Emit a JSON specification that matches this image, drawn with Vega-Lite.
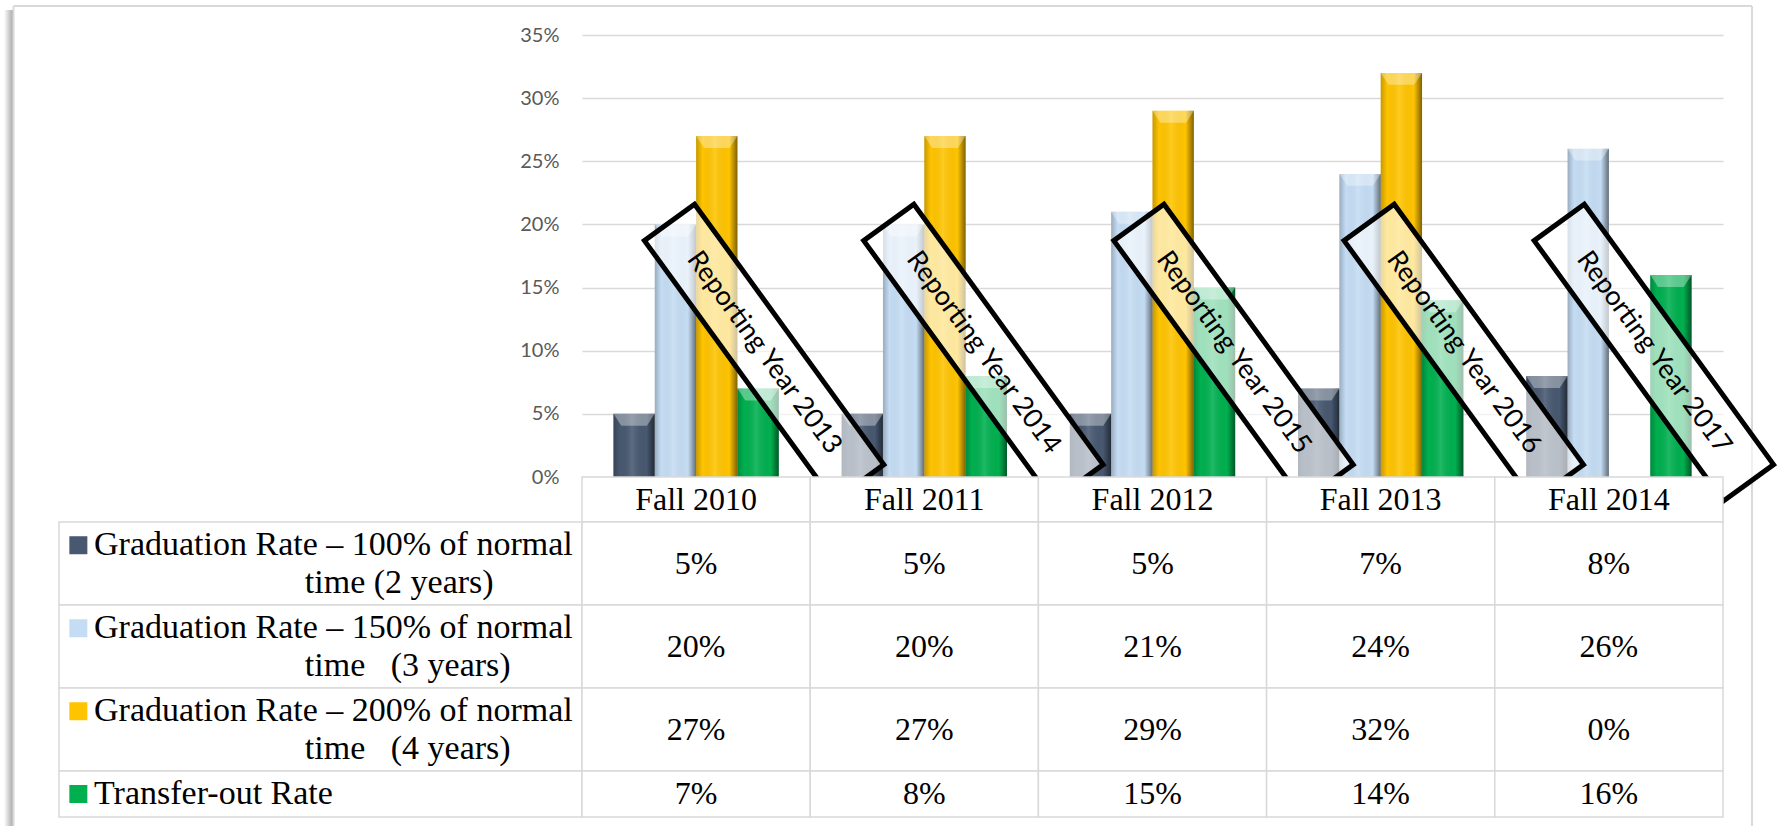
{
  "$schema": "https://vega.github.io/schema/vega-lite/v6.json",
  "background": "white",
  "padding": {"left": 3, "top": 5, "right": 0, "bottom": 0},
  "columns": 2,
  "spacing": 0,
  "bounds": "flush",
  "align": "each",
  "config": {"view": {"stroke": null}},
  "datasets": {
    "rates": [
      {"period": "Fall 2010", "series": "Graduation Rate – 100% of normal time (2 years)", "value": 0.05},
      {"period": "Fall 2011", "series": "Graduation Rate – 100% of normal time (2 years)", "value": 0.05},
      {"period": "Fall 2012", "series": "Graduation Rate – 100% of normal time (2 years)", "value": 0.05},
      {"period": "Fall 2013", "series": "Graduation Rate – 100% of normal time (2 years)", "value": 0.07},
      {"period": "Fall 2014", "series": "Graduation Rate – 100% of normal time (2 years)", "value": 0.08},
      {"period": "Fall 2010", "series": "Graduation Rate – 150% of normal time (3 years)", "value": 0.20},
      {"period": "Fall 2011", "series": "Graduation Rate – 150% of normal time (3 years)", "value": 0.20},
      {"period": "Fall 2012", "series": "Graduation Rate – 150% of normal time (3 years)", "value": 0.21},
      {"period": "Fall 2013", "series": "Graduation Rate – 150% of normal time (3 years)", "value": 0.24},
      {"period": "Fall 2014", "series": "Graduation Rate – 150% of normal time (3 years)", "value": 0.26},
      {"period": "Fall 2010", "series": "Graduation Rate – 200% of normal time (4 years)", "value": 0.27},
      {"period": "Fall 2011", "series": "Graduation Rate – 200% of normal time (4 years)", "value": 0.27},
      {"period": "Fall 2012", "series": "Graduation Rate – 200% of normal time (4 years)", "value": 0.29},
      {"period": "Fall 2013", "series": "Graduation Rate – 200% of normal time (4 years)", "value": 0.32},
      {"period": "Fall 2014", "series": "Graduation Rate – 200% of normal time (4 years)", "value": 0.00},
      {"period": "Fall 2010", "series": "Transfer-out Rate", "value": 0.07},
      {"period": "Fall 2011", "series": "Transfer-out Rate", "value": 0.08},
      {"period": "Fall 2012", "series": "Transfer-out Rate", "value": 0.15},
      {"period": "Fall 2013", "series": "Transfer-out Rate", "value": 0.14},
      {"period": "Fall 2014", "series": "Transfer-out Rate", "value": 0.16}
    ],
    "notes": [
      {"label": "Reporting Year 2013", "pos": 0.798, "at": 0.0985},
      {"label": "Reporting Year 2014", "pos": 1.759, "at": 0.0985},
      {"label": "Reporting Year 2015", "pos": 2.855, "at": 0.0985},
      {"label": "Reporting Year 2016", "pos": 3.864, "at": 0.0985},
      {"label": "Reporting Year 2017", "pos": 4.697, "at": 0.0985}
    ],
    "rows": [
      {"series": "Graduation Rate – 100% of normal time (2 years)", "line1": "Graduation Rate – 100% of normal", "line2": "time (2 years)"},
      {"series": "Graduation Rate – 150% of normal time (3 years)", "line1": "Graduation Rate – 150% of normal", "line2": "time\u00a0\u00a0 (3 years)"},
      {"series": "Graduation Rate – 200% of normal time (4 years)", "line1": "Graduation Rate – 200% of normal", "line2": "time\u00a0\u00a0 (4 years)"},
      {"series": "Transfer-out Rate", "line1": "Transfer-out Rate", "line2": ""}
    ]
  },
  "concat": [
    {
      "width": 523,
      "height": 442,
      "data": {"values": [{"frame": "border"}]},
      "layer": [
        {
          "mark": {"type": "rect", "fill": {"gradient": "linear", "x1": 0, "x2": 1, "y1": 0, "y2": 0, "stops": [
            {"offset": 0, "color": "#FFFFFF"},
            {"offset": 1, "color": "#A8A8A8"}
          ]}},
          "encoding": {
            "x": {"datum": -0.1052, "type": "quantitative", "scale": {"domain": [0, 1], "nice": false, "zero": false}, "axis": null},
            "x2": {"datum": -0.0880},
            "y": {"datum": 1.0566, "type": "quantitative", "scale": {"domain": [0, 1], "nice": false, "zero": false}, "axis": null},
            "y2": {"datum": -0.7896}
          }
        },
        {
          "mark": {"type": "rule", "color": "#D9D9D9", "strokeWidth": 2},
          "encoding": {
            "x": {"datum": -0.0870, "type": "quantitative"},
            "y": {"datum": 1.0656, "type": "quantitative"},
            "y2": {"datum": -0.7896}
          }
        },
        {
          "mark": {"type": "rule", "color": "#D9D9D9", "strokeWidth": 2},
          "encoding": {
            "x": {"datum": -0.0870, "type": "quantitative"},
            "x2": {"datum": 3.2371},
            "y": {"datum": 1.0656, "type": "quantitative"}
          }
        },
        {
          "mark": {"type": "rule", "color": "#D9D9D9", "strokeWidth": 2},
          "encoding": {
            "x": {"datum": 3.2371, "type": "quantitative"},
            "y": {"datum": 1.0656, "type": "quantitative"},
            "y2": {"datum": -0.7896}
          }
        }
      ]
    },
    {
      "width": 1141,
      "height": 442,
      "layer": [
        {
          "data": {"name": "rates"},
          "encoding": {
            "x": {"field": "period", "type": "nominal", "sort": null, "axis": null, "scale": {"paddingInner": 0, "paddingOuter": 0}},
            "xOffset": {"field": "series", "type": "nominal", "sort": null, "scale": {"paddingInner": 0, "paddingOuter": 0.76}},
            "y": {
              "field": "value", "type": "quantitative",
              "scale": {"domain": [0, 0.35], "nice": false},
              "axis": {"title": null, "format": ".0%", "values": [0, 0.05, 0.1, 0.15, 0.2, 0.25, 0.3, 0.35], "domain": false, "ticks": false, "labelPadding": 23, "labelColor": "#595959", "labelFont": "Lato", "labelFontSize": 20, "grid": true, "gridColor": "#D9D9D9", "gridWidth": 1.5}
            }
          },
          "layer": [
            {
              "mark": {"type": "bar"},
              "encoding": {
                "color": {"field": "series", "type": "nominal", "sort": null, "legend": null,
                  "scale": {"domain": ["Graduation Rate – 100% of normal time (2 years)", "Graduation Rate – 150% of normal time (3 years)", "Graduation Rate – 200% of normal time (4 years)", "Transfer-out Rate"], "range": ["#475870", "#C5DDF4", "#FFC400", "#00B04F"]}}
              }
            },
            {
              "mark": {"type": "bar", "fill": {"gradient": "linear", "x1": 0, "x2": 1, "y1": 0, "y2": 0, "stops": [
                {"offset": 0, "color": "rgba(0,0,0,0.22)"},
                {"offset": 0.16, "color": "rgba(0,0,0,0)"},
                {"offset": 0.45, "color": "rgba(255,255,255,0.12)"},
                {"offset": 0.8, "color": "rgba(0,0,0,0)"},
                {"offset": 1, "color": "rgba(0,0,0,0.5)"}
              ]}}
            },
            {
              "transform": [{"filter": "datum.value > 0"}],
              "mark": {"type": "point", "shape": "M-1,0L1,0L0.62,0.58L-0.62,0.58Z", "size": 1700, "filled": true, "fill": "white", "fillOpacity": 0.35, "strokeWidth": 0, "opacity": 1}
            }
          ]
        },
        {
          "data": {"name": "notes"},
          "encoding": {
            "x": {"field": "pos", "type": "quantitative", "scale": {"domain": [0, 5], "nice": false, "zero": false}, "axis": null},
            "y": {"field": "at", "type": "quantitative", "title": null}
          },
          "layer": [
            {
              "mark": {"type": "point", "shape": "M-1,-0.1925L1,-0.1925L1,0.1925L-1,0.1925Z", "size": 103684, "angle": 54, "filled": true, "fill": "white", "fillOpacity": 0.62, "stroke": "black", "strokeOpacity": 1, "strokeWidth": 5, "opacity": 1}
            },
            {
              "mark": {"type": "text", "angle": 54, "font": "Lato", "fontSize": 27, "color": "black", "align": "center", "baseline": "middle"},
              "encoding": {"text": {"field": "label"}}
            }
          ]
        }
      ],
      "resolve": {"scale": {"x": "independent"}}
    },
    {"width": 523, "height": 45, "data": {"values": []}, "mark": "rect", "encoding": {}},
    {
      "width": 1141,
      "height": 45,
      "data": {"name": "rates"},
      "transform": [{"filter": "datum.series === 'Transfer-out Rate'"}],
      "encoding": {"x": {"field": "period", "type": "nominal", "sort": null, "axis": null, "scale": {"paddingInner": 0, "paddingOuter": 0}}},
      "layer": [
        {"mark": {"type": "rect", "fill": "white", "stroke": "#D9D9D9", "strokeWidth": 1.5}},
        {"mark": {"type": "text", "font": "Liberation Serif", "fontSize": 32, "color": "black", "baseline": "middle"}, "encoding": {"text": {"field": "period"}}}
      ]
    },
    {
      "width": 523,
      "height": 249,
      "data": {"name": "rows"},
      "transform": [{"filter": "datum.series !== 'Transfer-out Rate'"}],
      "layer": [
        {"mark": {"type": "rect", "fill": "white", "stroke": "#D9D9D9", "strokeWidth": 1.5},
         "encoding": {"y": {"field": "series", "type": "nominal", "sort": null, "axis": null, "scale": {"paddingInner": 0, "paddingOuter": 0}}}},
        {"mark": {"type": "point", "shape": "square", "filled": true, "size": 324, "opacity": 1},
         "encoding": {
           "x": {"datum": 0.037, "type": "quantitative", "scale": {"domain": [0, 1], "nice": false, "zero": false}, "axis": null},
           "y": {"field": "series", "type": "nominal", "sort": null, "axis": null, "bandPosition": 0.28},
           "color": {"field": "series", "type": "nominal", "sort": null, "legend": null,
             "scale": {"domain": ["Graduation Rate – 100% of normal time (2 years)", "Graduation Rate – 150% of normal time (3 years)", "Graduation Rate – 200% of normal time (4 years)", "Transfer-out Rate"], "range": ["#475870", "#C5DDF4", "#FFC400", "#00B04F"]}}
         }},
        {"mark": {"type": "text", "font": "Liberation Serif", "fontSize": 34, "color": "black", "align": "left", "baseline": "middle"},
         "encoding": {
           "x": {"datum": 0.067, "type": "quantitative"},
           "y": {"field": "series", "type": "nominal", "sort": null, "axis": null, "bandPosition": 0.28},
           "text": {"field": "line1"}
         }},
        {"mark": {"type": "text", "font": "Liberation Serif", "fontSize": 34, "color": "black", "align": "left", "baseline": "middle"},
         "encoding": {
           "x": {"datum": 0.47, "type": "quantitative"},
           "y": {"field": "series", "type": "nominal", "sort": null, "axis": null, "bandPosition": 0.73},
           "text": {"field": "line2"}
         }}
      ]
    },
    {
      "width": 1141,
      "height": 249,
      "data": {"name": "rates"},
      "transform": [{"filter": "datum.series !== 'Transfer-out Rate'"}],
      "encoding": {
        "x": {"field": "period", "type": "nominal", "sort": null, "axis": null, "scale": {"paddingInner": 0, "paddingOuter": 0}},
        "y": {"field": "series", "type": "nominal", "sort": null, "axis": null, "scale": {"paddingInner": 0, "paddingOuter": 0}}
      },
      "layer": [
        {"mark": {"type": "rect", "fill": "white", "stroke": "#D9D9D9", "strokeWidth": 1.5}},
        {"mark": {"type": "text", "font": "Liberation Serif", "fontSize": 32, "color": "black", "baseline": "middle"}, "encoding": {"text": {"field": "value", "type": "quantitative", "format": ".0%"}}}
      ]
    },
    {
      "width": 523,
      "height": 46,
      "data": {"name": "rows"},
      "transform": [{"filter": "datum.series === 'Transfer-out Rate'"}],
      "layer": [
        {"mark": {"type": "rect", "fill": "white", "stroke": "#D9D9D9", "strokeWidth": 1.5},
         "encoding": {"y": {"field": "series", "type": "nominal", "sort": null, "axis": null, "scale": {"paddingInner": 0, "paddingOuter": 0}}}},
        {"mark": {"type": "point", "shape": "square", "filled": true, "size": 324, "opacity": 1},
         "encoding": {
           "x": {"datum": 0.037, "type": "quantitative", "scale": {"domain": [0, 1], "nice": false, "zero": false}, "axis": null},
           "y": {"field": "series", "type": "nominal", "sort": null, "axis": null},
           "color": {"field": "series", "type": "nominal", "sort": null, "legend": null,
             "scale": {"domain": ["Graduation Rate – 100% of normal time (2 years)", "Graduation Rate – 150% of normal time (3 years)", "Graduation Rate – 200% of normal time (4 years)", "Transfer-out Rate"], "range": ["#475870", "#C5DDF4", "#FFC400", "#00B04F"]}}
         }},
        {"mark": {"type": "text", "font": "Liberation Serif", "fontSize": 34, "color": "black", "align": "left", "baseline": "middle"},
         "encoding": {
           "x": {"datum": 0.067, "type": "quantitative"},
           "y": {"field": "series", "type": "nominal", "sort": null, "axis": null},
           "text": {"field": "line1"}
         }}
      ]
    },
    {
      "width": 1141,
      "height": 46,
      "data": {"name": "rates"},
      "transform": [{"filter": "datum.series === 'Transfer-out Rate'"}],
      "encoding": {
        "x": {"field": "period", "type": "nominal", "sort": null, "axis": null, "scale": {"paddingInner": 0, "paddingOuter": 0}},
        "y": {"field": "series", "type": "nominal", "sort": null, "axis": null, "scale": {"paddingInner": 0, "paddingOuter": 0}}
      },
      "layer": [
        {"mark": {"type": "rect", "fill": "white", "stroke": "#D9D9D9", "strokeWidth": 1.5}},
        {"mark": {"type": "text", "font": "Liberation Serif", "fontSize": 32, "color": "black", "baseline": "middle"}, "encoding": {"text": {"field": "value", "type": "quantitative", "format": ".0%"}}}
      ]
    }
  ]
}
